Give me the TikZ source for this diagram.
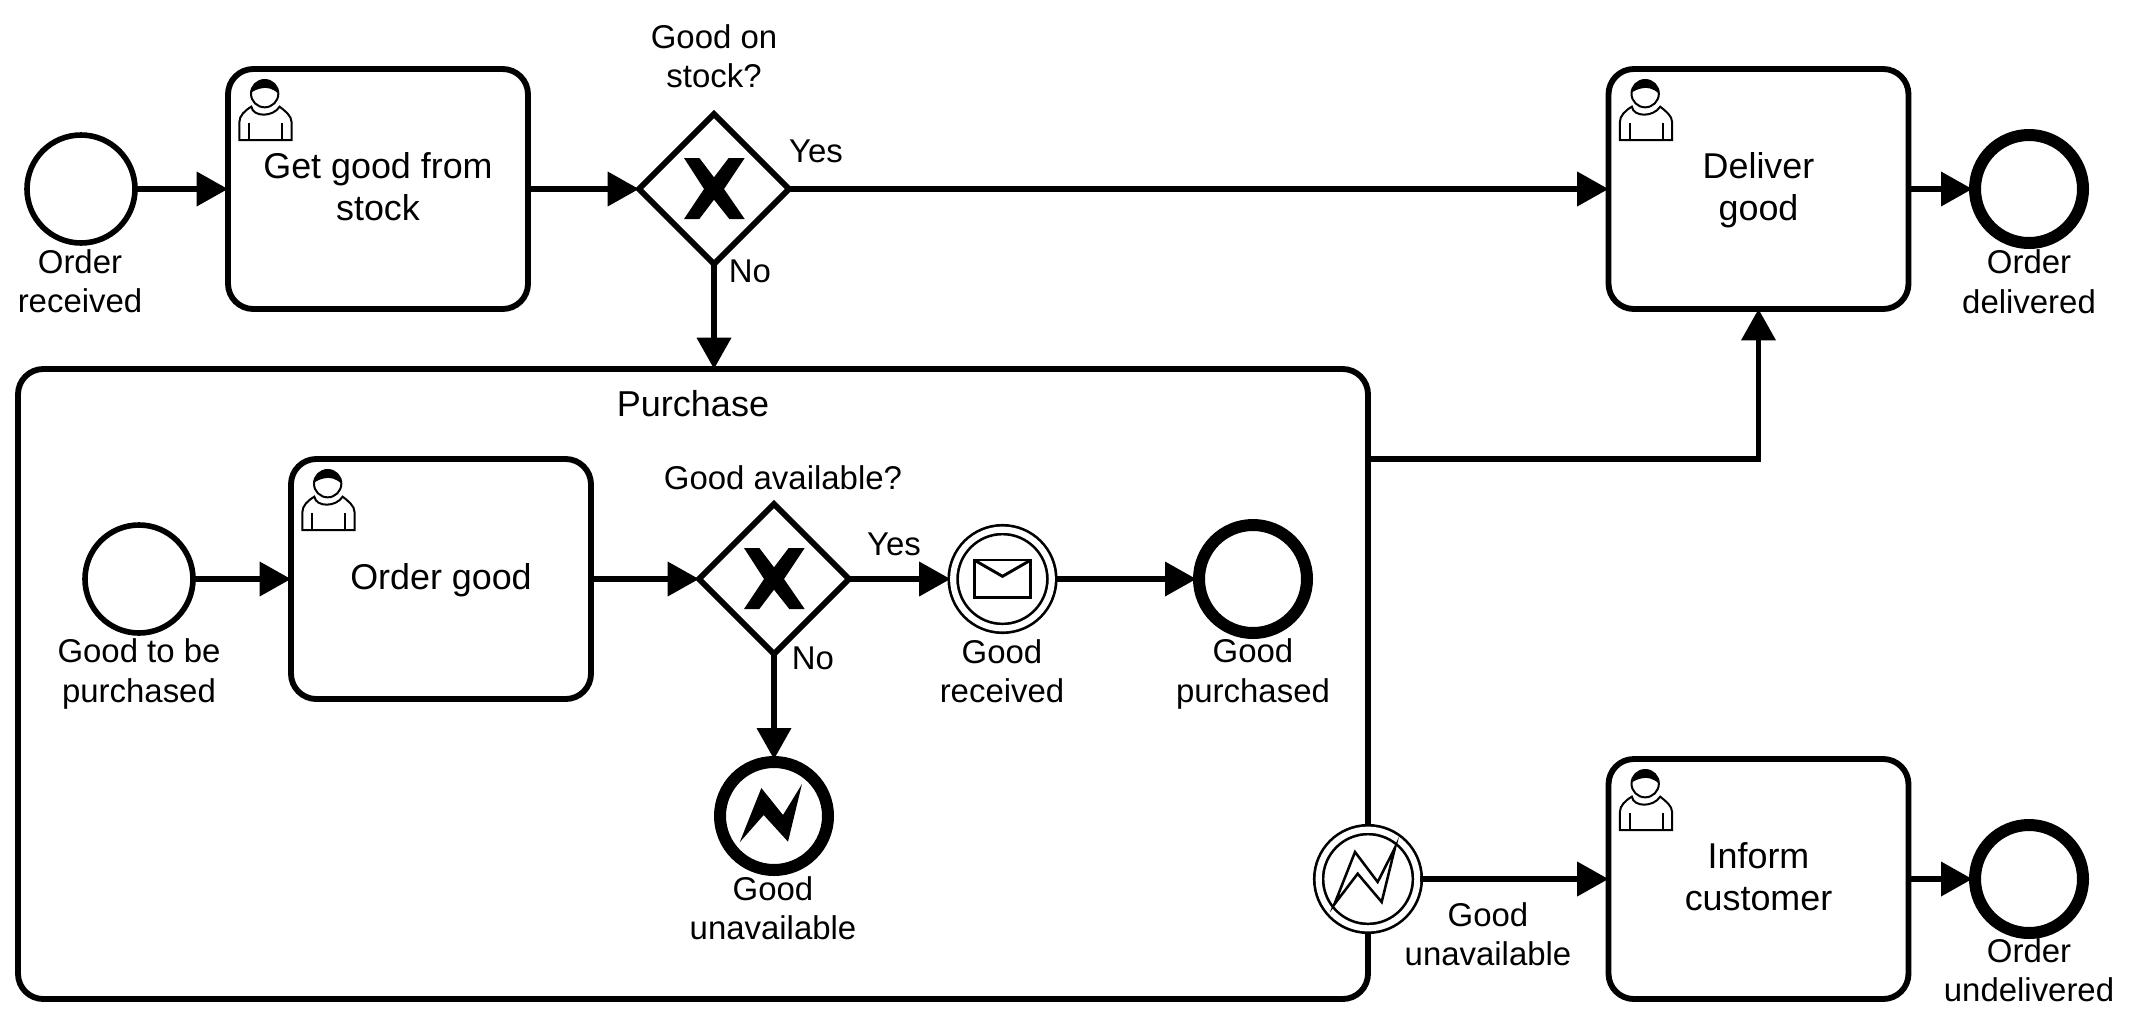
\documentclass[tikz,border=0pt]{standalone}
\usepackage{fontspec}
\setmainfont{Liberation Sans}
\usetikzlibrary{arrows.meta,shapes.geometric}
\tikzset{
  x=.75pt,y=-.75pt,
  flow/.style={line width=4.4pt,-{Triangle[length=23.5pt,width=25pt]},line join=miter},
  taskbox/.style={draw,line width=4.4pt,fill=white,rectangle,rounded corners=19pt,minimum width=225pt,minimum height=180pt,inner sep=0pt,outer sep=0pt,align=center,text depth=3.5pt,font=\fontsize{26.9}{31.5}\selectfont},
  subbox/.style={draw,line width=4.4pt,fill=white,rectangle,rounded corners=19pt,minimum width=1012.5pt,minimum height=472.5pt,inner sep=0pt,outer sep=0pt},
  startev/.style={draw,circle,line width=4.2pt,fill=white,minimum size=81pt,inner sep=0pt,outer sep=0pt},
  endev/.style={draw,circle,line width=9pt,fill=white,minimum size=81pt,inner sep=0pt,outer sep=2pt},
  interev/.style={draw,circle,double,double distance=4.6pt,line width=2pt,fill=white,minimum size=74pt,inner sep=0pt,outer sep=2pt},
  gate/.style={draw,diamond,aspect=1,line width=4.4pt,fill=white,minimum width=112.5pt,minimum height=112.5pt,inner sep=0pt,outer sep=0pt},
  lab/.style={align=center,font=\fontsize{24.7}{29.6}\selectfont,inner sep=0pt},
  xmark/.pic={\fill[x=.25pt,y=-.25pt] (-90,-93)--(-44,-93)--(0,-35)--(44,-93)--(92,-93)--(30,0)--(92,90)--(46,90)--(0,32)--(-44,90)--(-90,90)--(-30,0)--cycle;},
  userico/.pic={
    \begin{scope}[x=.25pt,y=-.25pt,line width=1.5pt]
      \draw (34,213) -- (34,160) .. controls (34,140) and (50,125) .. (70,113)
        .. controls (75,145) and (135,145) .. (155,113)
        .. controls (170,125) and (191,140) .. (191,160) -- (191,213) -- cycle;
      \draw (64,163) -- (64,213) (162,163) -- (162,213);
      \draw[fill=white] (110,74) circle[radius=41];
      \fill (69,72) .. controls (71,46) and (90,33) .. (110,33) .. controls (132,33) and (151,50) .. (151,74)
        .. controls (135,58) and (115,54) .. (100,58) .. controls (88,60) and (75,66) .. (69,72) -- cycle;
    \end{scope}},
  envico/.pic={
    \begin{scope}[x=.25pt,y=-.25pt,line width=2.2pt]
      \draw (-85,-57) rectangle (85,55);
      \draw (-85,-57) -- (0,-8) -- (85,-57);
    \end{scope}},
  boltfill/.pic={\fill[x=.25pt,y=-.25pt] (-103,79)--(-38,-84)--(27,-3)--(84,-96)--(42,77)--(-31,-3)--cycle;},
  boltline/.pic={\draw[x=.25pt,y=-.25pt,line width=1.9pt,line join=miter] (-101,76)--(-39,-81)--(29,9)--(81,-94)--(41,69)--(-31,-16)--cycle;}
}
\begin{document}
\begin{tikzpicture}
\useasboundingbox (0,0) rectangle (2133,1032);
\fill[white] (0,0) rectangle (2133,1032);
% sub process
\node[subbox] (sub) at (693,684) {};
\node[lab,font=\fontsize{27}{31}\selectfont] (subtitle) at (693,404) {Purchase};
% top row
\node[startev] (s1) at (81,189) {};
\node[taskbox] (t1) at (378,189) {Get good from\\stock};
\node[gate] (g1) at (714,189) {};
\node[taskbox] (t2) at (1758.5,189) {Deliver\\good};
\node[endev] (e1) at (2029,189) {};
% inner row
\node[startev] (s2) at (139,579) {};
\node[taskbox] (t3) at (441,579) {Order good};
\node[gate] (g2) at (774,579) {};
\node[interev] (c1) at (1002.5,579) {};
\node[endev] (e2) at (1253,579) {};
\node[endev] (e3) at (774,816) {};
% boundary, lower row
\node[interev] (b1) at (1368,879) {};
\node[taskbox] (t4) at (1758.5,879) {Inform\\customer};
\node[endev] (e4) at (2029,879) {};
\coordinate (exit) at (1368,459);
% flows
\draw[flow] (s1) -- (t1);
\draw[flow] (t1) -- (g1);
\draw[flow] (g1) -- (t2);
\draw[flow] (t2) -- (e1);
\draw[flow] (g1) -- (g1 |- sub.north);
\draw[flow] (s2) -- (t3);
\draw[flow] (t3) -- (g2);
\draw[flow] (g2) -- (c1);
\draw[flow] (c1) -- (e2);
\draw[flow] (g2) -- (e3);
\draw[flow] (exit) -| (t2.south);
\draw[flow] (b1.east) -- (b1.east -| t4.west);
\draw[flow] (t4) -- (e4);
% icons
\pic at (t1.north west) {userico};
\pic at (t2.north west) {userico};
\pic at (t3.north west) {userico};
\pic at (t4.north west) {userico};
\pic at (g1) {xmark};
\pic at (g2) {xmark};
\pic at (c1) {envico};
\pic at (e3) {boltfill};
\pic at (b1) {boltline};
% labels
\node[lab] (l1) at (80,281) {Order\\received};
\node[lab] (l2) at (714,56) {Good on\\stock?};
\node[lab] (l3) at (816,151) {Yes};
\node[lab] (l4) at (750,271) {No};
\node[lab] (l5) at (2029,281.5) {Order\\delivered};
\node[lab] (l6) at (139,674) {Good to be\\purchased};
\node[lab] (l7) at (783,478) {Good available?};
\node[lab] (l8) at (894,544) {Yes};
\node[lab] (l9) at (813,658) {No};
\node[lab] (l10) at (1002,671) {Good\\received};
\node[lab] (l11) at (1253,674) {Good\\purchased};
\node[lab] (l12) at (773,908) {Good\\unavailable};
\node[lab] (l13) at (1488,934) {Good\\unavailable};
\node[lab] (l14) at (2029,970) {Order\\undelivered};
\end{tikzpicture}
\end{document}
